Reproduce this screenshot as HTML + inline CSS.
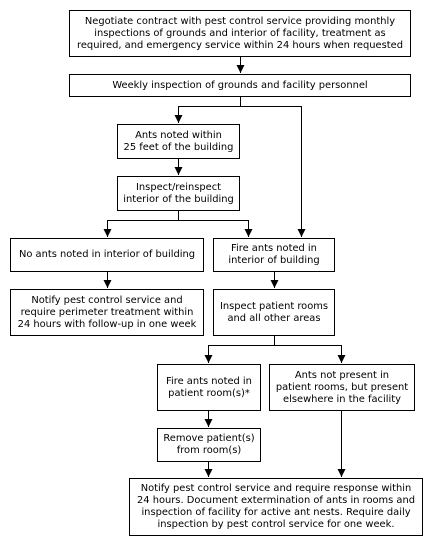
<!DOCTYPE html>
<html><head><style>
body{margin:0;background:#fff;width:434px;height:546px;position:relative;overflow:hidden;font-family:"DejaVu Sans","Liberation Sans",sans-serif;font-size:9.9px;color:#000}
.b{position:absolute;border:1px solid #000;box-sizing:border-box;display:flex;align-items:center;justify-content:center;text-align:center;line-height:12px;background:#fff;white-space:nowrap}
svg{position:absolute;left:0;top:0}
</style></head><body>
<svg width="434" height="546">
<defs><marker id="a" markerWidth="8" markerHeight="8" refX="8" refY="4" orient="auto" markerUnits="userSpaceOnUse"><path d="M0,0 L8,4 L0,8 z" fill="#000"/></marker></defs>
<g stroke="#000" stroke-width="1" fill="none">
<line x1="240.5" y1="56" x2="240.5" y2="73" marker-end="url(#a)"/>
<polyline points="240.5,96 240.5,106.5 178.5,106.5 178.5,123" marker-end="url(#a)"/>
<polyline points="240.5,106.5 301.5,106.5 301.5,237" marker-end="url(#a)"/>
<line x1="178.5" y1="158" x2="178.5" y2="175" marker-end="url(#a)"/>
<line x1="178.5" y1="210" x2="178.5" y2="220.5"/>
<polyline points="107.5,230 107.5,220.5 248.5,220.5 248.5,230"/>
<line x1="107.5" y1="225" x2="107.5" y2="237" marker-end="url(#a)"/>
<line x1="248.5" y1="225" x2="248.5" y2="237" marker-end="url(#a)"/>
<line x1="107.5" y1="271" x2="107.5" y2="288" marker-end="url(#a)"/>
<line x1="274.5" y1="271" x2="274.5" y2="288" marker-end="url(#a)"/>
<polyline points="274.5,335 274.5,345.5 208.5,345.5 208.5,363" marker-end="url(#a)"/>
<polyline points="274.5,345.5 341.5,345.5 341.5,363" marker-end="url(#a)"/>
<line x1="208.5" y1="410" x2="208.5" y2="427" marker-end="url(#a)"/>
<line x1="208.5" y1="461" x2="208.5" y2="477" marker-end="url(#a)"/>
<line x1="341.5" y1="410" x2="341.5" y2="477" marker-end="url(#a)"/>
</g></svg>
<div class="b" style="left:69px;top:10px;width:342px;height:47px">Negotiate contract with pest control service providing monthly<br>inspections of grounds and interior of facility, treatment as<br>required, and emergency service within 24 hours when requested</div>
<div class="b" style="left:69px;top:74px;width:342px;height:23px">Weekly inspection of grounds and facility personnel</div>
<div class="b" style="left:117px;top:124px;width:123px;height:35px">Ants noted within<br>25 feet of the building</div>
<div class="b" style="left:117px;top:176px;width:123px;height:35px">Inspect/reinspect<br>interior of the building</div>
<div class="b" style="left:10px;top:238px;width:194px;height:34px">No ants noted in interior of building</div>
<div class="b" style="left:213px;top:238px;width:122px;height:34px">Fire ants noted in<br>interior of building</div>
<div class="b" style="left:10px;top:289px;width:194px;height:47px">Notify pest control service and<br>require perimeter treatment within<br>24 hours with follow-up in one week</div>
<div class="b" style="left:213px;top:289px;width:122px;height:47px">Inspect patient rooms<br>and all other areas</div>
<div class="b" style="left:157px;top:364px;width:104px;height:47px">Fire ants noted in<br>patient room(s)*</div>
<div class="b" style="left:269px;top:364px;width:146px;height:47px">Ants not present in<br>patient rooms, but present<br>elsewhere in the facility</div>
<div class="b" style="left:157px;top:428px;width:104px;height:34px">Remove patient(s)<br>from room(s)</div>
<div class="b" style="left:129px;top:478px;width:294px;height:58px">Notify pest control service and require response within<br>24 hours. Document extermination of ants in rooms and<br>inspection of facility for active ant nests. Require daily<br>inspection by pest control service for one week.</div>
</body></html>
